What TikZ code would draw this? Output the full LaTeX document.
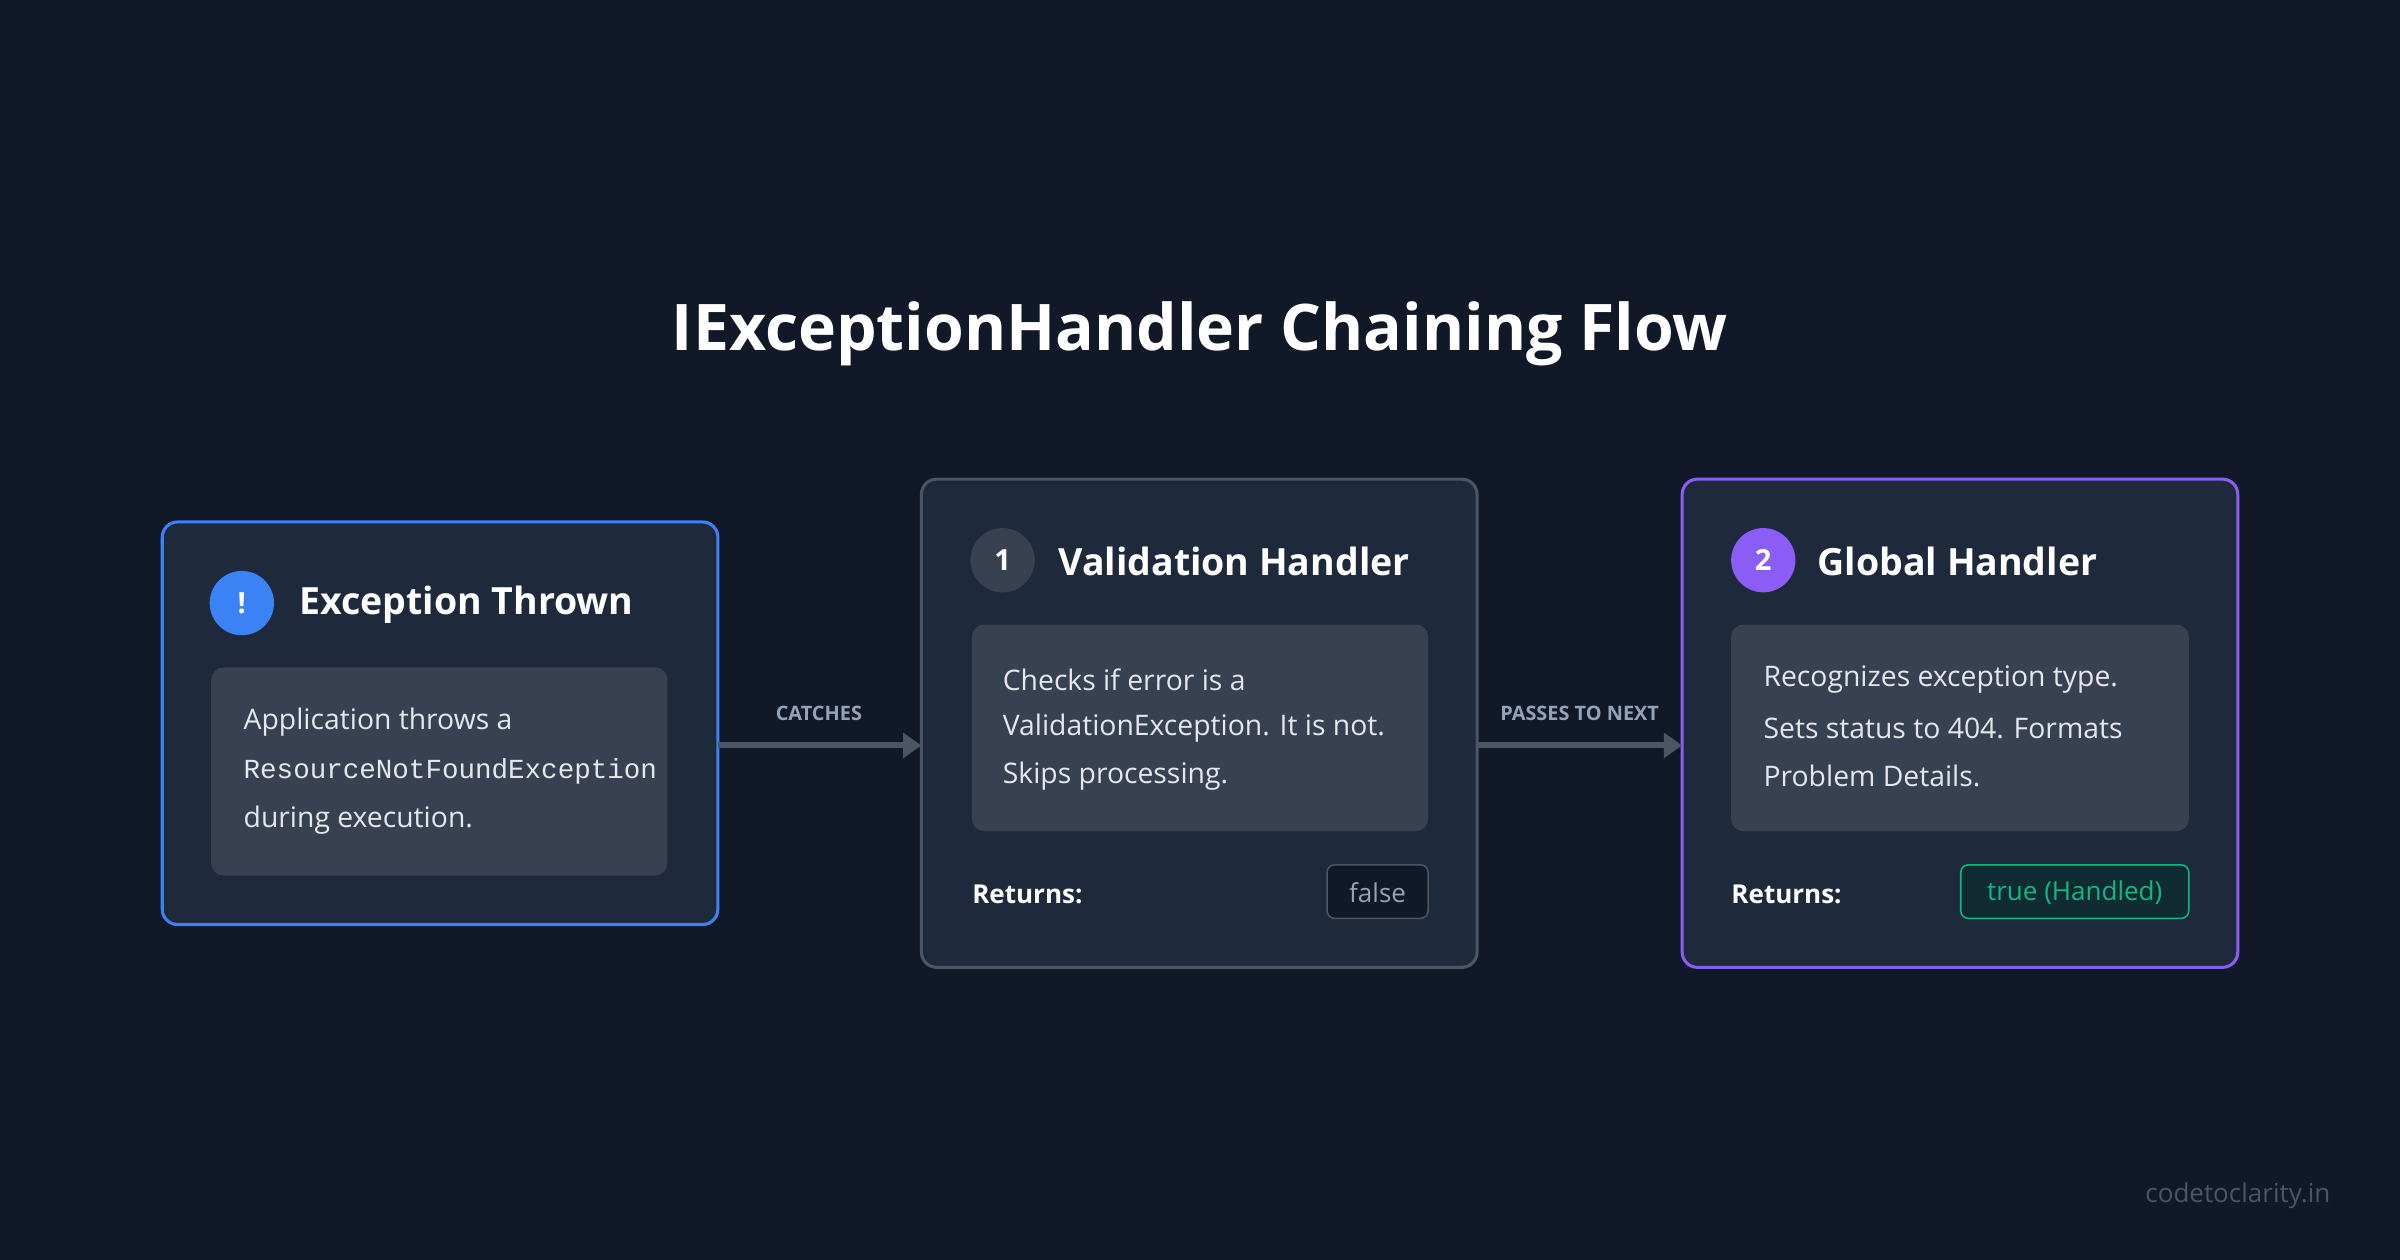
\documentclass[tikz,border=0pt]{standalone}
\usepackage{fontspec}
\setmainfont{Open Sans}
\setmonofont{Liberation Mono}
\usetikzlibrary{arrows.meta}
\definecolor{bg}{HTML}{111827}
\definecolor{card}{HTML}{1E293B}
\definecolor{inner}{HTML}{374151}
\definecolor{blueb}{HTML}{3B82F6}
\definecolor{grayb}{HTML}{4B5563}
\definecolor{purp}{HTML}{8B5CF6}
\definecolor{grn}{HTML}{10B981}
\definecolor{lbl}{HTML}{94A3B8}
\definecolor{body}{HTML}{E5E7EB}
\tikzset{
 card/.style={draw, line width=2pt, fill=card, rounded corners=10pt},
 innerbox/.style={fill=inner, rounded corners=8pt},
 ttl/.style={anchor=west, text=white, font=\fontsize{24.5}{30}\selectfont\bfseries},
 txt/.style={anchor=west, text=body, font=\fontsize{18.5}{22}\selectfont, inner sep=0},
 ret/.style={anchor=west, text=white, font=\fontsize{17}{20}\selectfont\bfseries, inner sep=0},
 num/.style={circle, minimum size=42pt, inner sep=0, text=white, font=\fontsize{19}{22}\selectfont\bfseries},
 arr/.style={draw=grayb, line width=4pt, -{Triangle[length=12pt,width=16pt]}},
 albl/.style={text=lbl, font=\fontsize{13}{15}\selectfont\bfseries},
}
\begin{document}
\begin{tikzpicture}[x=1pt,y=-1pt]
\fill[bg] (0,0) rectangle (1568,823);
\useasboundingbox (0,0) rectangle (1568,823);
\node[text=white, font=\fontsize{42}{48}\selectfont\bfseries] (title) at (784,218) {IExceptionHandler Chaining Flow};
% box 1
\draw[card, draw=blueb] (106,341) rectangle (469,604);
\coordinate (b1r) at (469,487);
\node[num, fill=blueb] (c1) at (158,394) {!};
\node[ttl] (t1) at (192,395) {Exception Thrown};
\fill[innerbox] (138,436) rectangle (436,572);
\node[txt] (l11) at (159,472) {Application throws a};
\node[txt, font=\fontsize{18}{22}\selectfont\ttfamily] (l12) at (159,504) {ResourceNotFoundException};
\node[txt] (l13) at (159,536) {during execution.};
% box 2
\draw[card, draw=grayb] (602,313) rectangle (965,632);
\coordinate (b2l) at (602,487);
\coordinate (b2r) at (965,487);
\node[num, fill=inner] (c2) at (655,366) {1};
\node[ttl] (t2) at (688,367) {Validation Handler};
\fill[innerbox] (635,408) rectangle (933,543);
\node[txt] (l21) at (655,444) {Checks if error is a};
\node[txt] (l22) at (655,476) {ValidationException. It is not.};
\node[txt] (l23) at (655,507) {Skips processing.};
\node[ret] (r2) at (635,584) {Returns:};
\draw[fill=bg, draw=grayb, line width=1pt, rounded corners=5pt] (867,565) rectangle (933,600);
\node[text=lbl, font=\fontsize{17}{20}\selectfont] (f2) at (900,583) {false};
% box 3
\draw[card, draw=purp] (1099,313) rectangle (1462,632);
\coordinate (b3l) at (1099,487);
\node[num, fill=purp] (c3) at (1152,366) {2};
\node[ttl] (t3) at (1184,367) {Global Handler};
\fill[innerbox] (1131,408) rectangle (1430,543);
\node[txt] (l31) at (1152,444) {Recognizes exception type.};
\node[txt] (l32) at (1152,476) {Sets status to 404. Formats};
\node[txt] (l33) at (1152,507) {Problem Details.};
\node[ret] (r3) at (1131,584) {Returns:};
\draw[fill=grn!12!bg, draw=grn, line width=1pt, rounded corners=5pt] (1281,565) rectangle (1430,600);
\node[text=grn, font=\fontsize{17}{20}\selectfont] (f3) at (1355.5,583) {true (Handled)};
% arrows
\draw[arr] (b1r) -- (b2l);
\node[albl] (a1) at (535,466) {CATCHES};
\draw[arr] (b2r) -- (b3l);
\node[albl] (a2) at (1032,466) {PASSES TO NEXT};
\node[anchor=east, text=grayb, font=\fontsize{17}{20}\selectfont] (wm) at (1526,781) {codetoclarity.in};
\end{tikzpicture}
\end{document}
